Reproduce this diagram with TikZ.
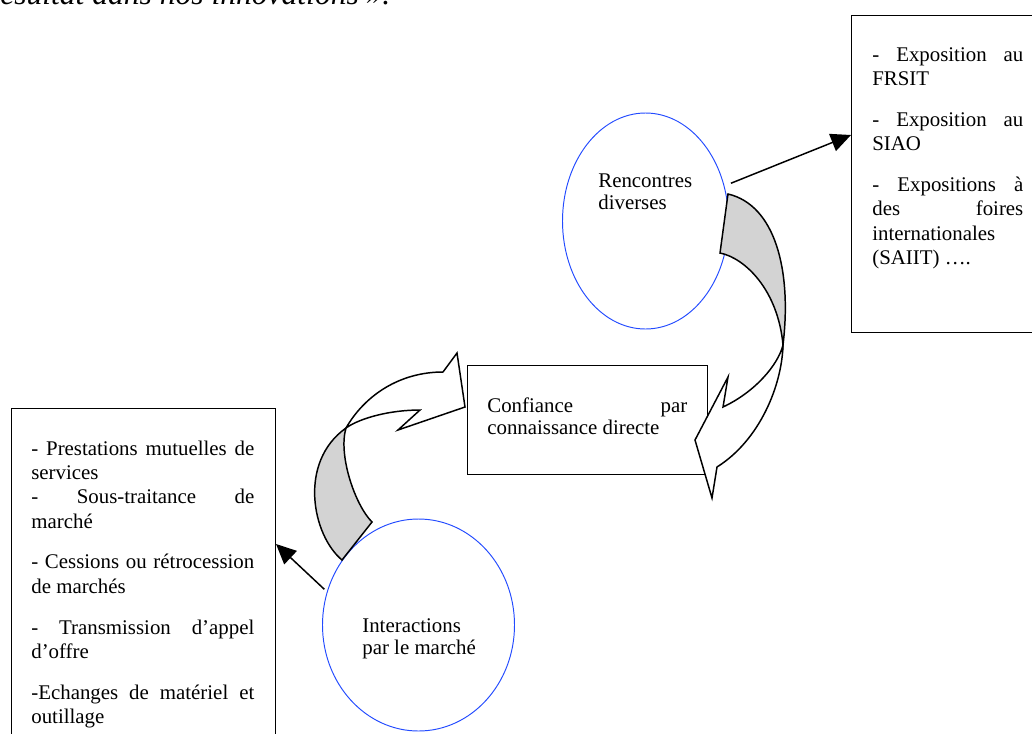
\documentclass[tikz,border=0pt]{standalone}
\usepackage{fontspec}
\usepackage{graphicx}
\setmainfont{Liberation Serif}
\usetikzlibrary{shapes.geometric, arrows.meta}
\newlength\pxu
\setlength\pxu{0.575pt}
\definecolor{ellblue}{RGB}{35,75,255}
\definecolor{shade}{RGB}{211,211,211}
\tikzset{
  framebox/.style={draw, line width=0.85pt, rectangle, inner sep=0pt, anchor=north west},
  bubble/.style={draw=ellblue, line width=0.55pt, ellipse, inner sep=0pt},
  txt/.style={anchor=base west, inner sep=0pt, font=\fontsize{12}{14}\selectfont},
  conn/.style={line width=0.85pt, -{Triangle[length=11.5pt,width=10.5pt]}},
  ribbon/.style={line width=0.85pt, line join=miter},
}
\newcommand\jline[1]{\makebox[\linewidth][s]{#1}\par}
\begin{document}
\begin{tikzpicture}[x=0.575pt, y=-0.575pt]
\useasboundingbox (0,0) rectangle (1032,733);

\node[anchor=base west, inner sep=0pt] (quote) at (0,4)
  {\resizebox{390\pxu}{!}{\itshape ésultat dans nos innovations ».}};

% boxes
\node[framebox, minimum width=200*\pxu, minimum height=317*\pxu] (rbox) at (851,15) {};
\node[framebox, minimum width=240*\pxu, minimum height=109*\pxu] (cbox) at (467,365) {};
\node[framebox, minimum width=264*\pxu, minimum height=372*\pxu] (lbox) at (11,408) {};

% ellipses
\node[bubble, minimum width=166*\pxu, minimum height=216*\pxu] (renc) at (645.5,221) {};
\node[bubble, minimum width=192*\pxu, minimum height=212*\pxu] (inter) at (418.5,625) {};

% texts
\node[txt] (rtext) at (872,61) {\parbox[t]{151\pxu}{\parindent=0pt
\jline{- Exposition au}
FRSIT\par\vspace{9.5pt}
\jline{- Exposition au}
SIAO\par\vspace{9.5pt}
\jline{- Expositions à}
\jline{des foires}
internationales\par
(SAIIT) ….}};

\node[txt] (ltext) at (31,455) {\parbox[t]{223\pxu}{\parindent=0pt
\jline{- Prestations mutuelles de}
services\par
\jline{- Sous-traitance de}
marché\par\vspace{9.5pt}
\jline{- Cessions ou rétrocession}
de marchés\par\vspace{9.5pt}
\jline{- Transmission d’appel}
d’offre\par\vspace{9.5pt}
\jline{-Echanges de matériel et}
outillage}};

\node[txt, font=\fontsize{12}{12.7}\selectfont] (ctext) at (487,412)
  {\parbox[t]{200\pxu}{\parindent=0pt\jline{Confiance par}connaissance directe}};

\node[txt, font=\fontsize{12}{13.2}\selectfont] (rtxt) at (598,187)
  {\parbox[t]{120\pxu}{\parindent=0pt Rencontres\par diverses}};

\node[txt, font=\fontsize{12}{13.2}\selectfont] (itxt) at (362,632)
  {\parbox[t]{130\pxu}{\parindent=0pt Interactions\par par le marché}};

% straight connectors
\coordinate (t2) at (851,135);
\coordinate (t1) at (276,544);
\draw[conn, shorten <=4pt] (renc.24) -- (t2);
\draw[conn, shorten <=2pt] (inter.160) -- (t1);

% curved ribbon arrow: Rencontres -> Confiance
\draw[ribbon, fill=shade] (728,194) .. controls (775,205) and (792,270) .. (783,345)
  .. controls (778,290) and (745,258) .. (720,253) -- cycle;
\draw[ribbon, fill=white] (783,345) .. controls (778,365) and (755,392) .. (723,407)
  -- (728,377) -- (695,440) -- (712,498) -- (717,467)
  .. controls (760,440) and (782,385) .. (783,345) -- cycle;

% curved ribbon arrow: Interactions -> Confiance
\draw[ribbon, fill=shade] (342,560) .. controls (312,535) and (298,462) .. (346,428)
  .. controls (338,455) and (355,505) .. (372,522) -- cycle;
\draw[ribbon, fill=white] (346,428) .. controls (365,395) and (400,372) .. (443,372)
  -- (457,353) -- (465,407) -- (398,430) -- (420,410)
  .. controls (390,410) and (360,418) .. (346,428) -- cycle;
\end{tikzpicture}
\end{document}
